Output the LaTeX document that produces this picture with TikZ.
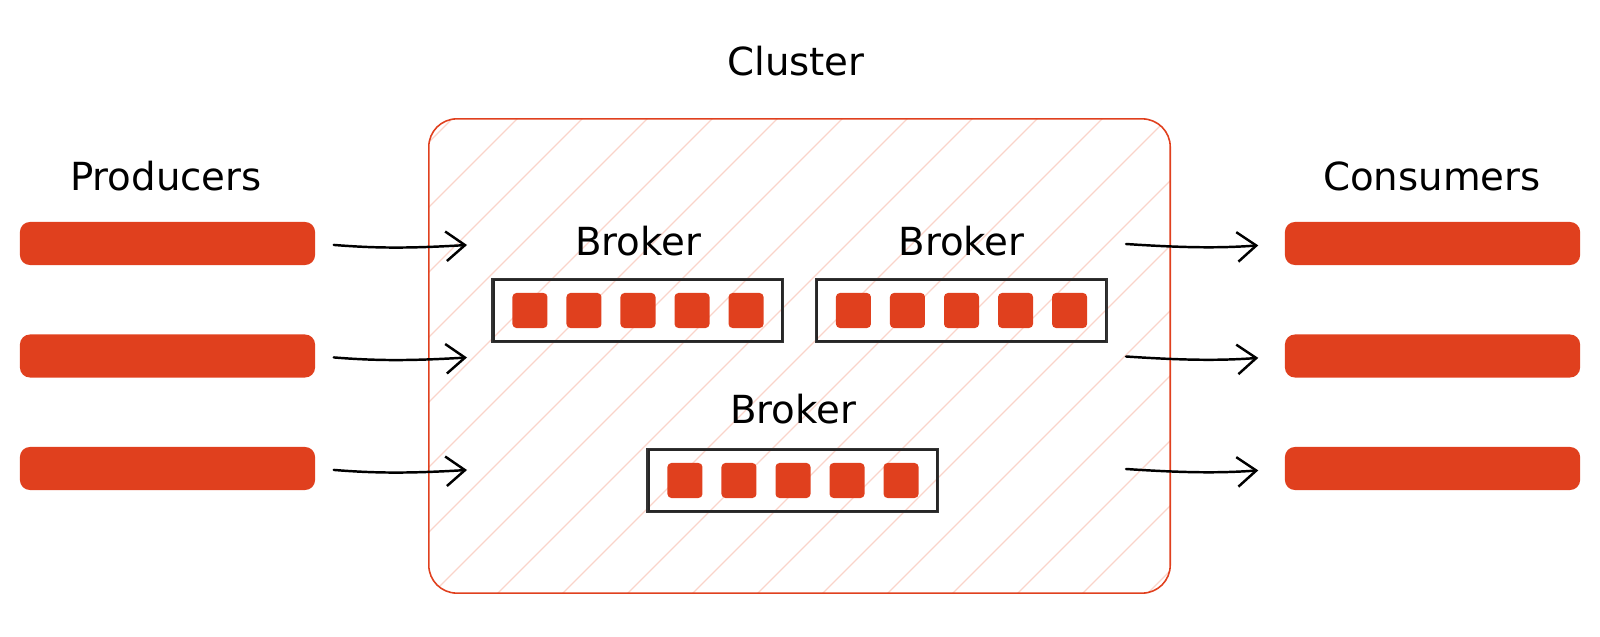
\documentclass[tikz,border=0pt]{standalone}
\usepackage{fontspec}
\setmainfont{DejaVu Sans}
\usetikzlibrary{arrows.meta}
\definecolor{kred}{HTML}{E0401E}
\definecolor{khatch}{HTML}{FAD4CA}

\begin{document}
\begin{tikzpicture}[x=0.01cm,y=-0.01cm,
	bar/.style={rectangle, fill=kred, rounded corners=0.1cm, minimum width=2.95cm, minimum height=0.43cm, inner sep=0pt},
	cell/.style={rectangle, fill=kred, rounded corners=0.04cm, minimum size=0.35cm, inner sep=0pt},
	brokerbox/.style={rectangle, draw=black!85, line width=0.55pt, minimum width=2.88cm, minimum height=0.61cm, inner sep=0pt},
	sketch/.style={draw=black!80, line width=0.4pt},
	heading/.style={anchor=base, font=\fontsize{11}{13}\selectfont},
	flow/.style={-{Straight Barb[length=5.4pt,width=8.4pt,line width=0.7pt]}, line width=0.7pt, line cap=round}]
	\useasboundingbox (0,0) rectangle (1600,637);
	% hatching inside the cluster
	\begin{scope}
		\clip[rounded corners=0.28cm] (429,119) rectangle (1170,593);
		\foreach \c in {506,571,...,1806}
			\draw[khatch, line width=0.35pt] (\c-100,100) -- (\c-620,620);
	\end{scope}
	\node (cluster) at (799.5,356)	[rectangle, draw=kred, line width=0.45pt, rounded corners=0.28cm, minimum width=7.41cm, minimum height=4.74cm]	{};
	\node (clusterlabel) at (796,76)	[heading]	{Cluster};
	\node (prodlabel) at (166,191)	[heading]	{Producers};
	\node (conslabel) at (1432,191)	[heading]	{Consumers};
	\node (P1) at (167.5,243.5)	[bar]	{};
	\node (P2) at (167.5,356)	[bar]	{};
	\node (P3) at (167.5,468.5)	[bar]	{};
	\node (C1) at (1432.5,243.5)	[bar]	{};
	\node (C2) at (1432.5,356)	[bar]	{};
	\node (C3) at (1432.5,468.5)	[bar]	{};
	\node (B1) at (638,310.5)	[brokerbox]	{};
	\node (B2) at (961.5,310.5)	[brokerbox]	{};
	\node (B3) at (793,480.5)	[brokerbox]	{};
	\node (B1label) at (638,256)	[heading]	{Broker};
	\node (B2label) at (961.5,256)	[heading]	{Broker};
	\node (B3label) at (793,424)	[heading]	{Broker};
	% second stroke for the hand drawn look
	\foreach \b in {B1,B2,B3}
		\draw[sketch] ([shift={(-0.8,0.4)}]\b.south west) rectangle ([shift={(0.4,-0.8)}]\b.north east);
	\foreach \b in {B1,B2,B3}
		\foreach \i in {-2,...,2}
			\node (\b-cell\i) at ([xshift=\i*0.54cm]\b.center)	[cell]	{};
	\coordinate (in1) at (467,245);
	\coordinate (in2) at (467,357.5);
	\coordinate (in3) at (467,470);
	\coordinate (out1) at (1126,244);
	\coordinate (out2) at (1126,356.5);
	\coordinate (out3) at (1126,469);
	\draw[flow, shorten <=0.18cm] (P1.east) to[bend right=4] (in1);
	\draw[flow, shorten <=0.18cm] (P2.east) to[bend right=4] (in2);
	\draw[flow, shorten <=0.18cm] (P3.east) to[bend right=4] (in3);
	\draw[flow, shorten >=0.26cm] (out1) to[bend right=4] (C1.west);
	\draw[flow, shorten >=0.26cm] (out2) to[bend right=4] (C2.west);
	\draw[flow, shorten >=0.26cm] (out3) to[bend right=4] (C3.west);
\end{tikzpicture}
\end{document}
